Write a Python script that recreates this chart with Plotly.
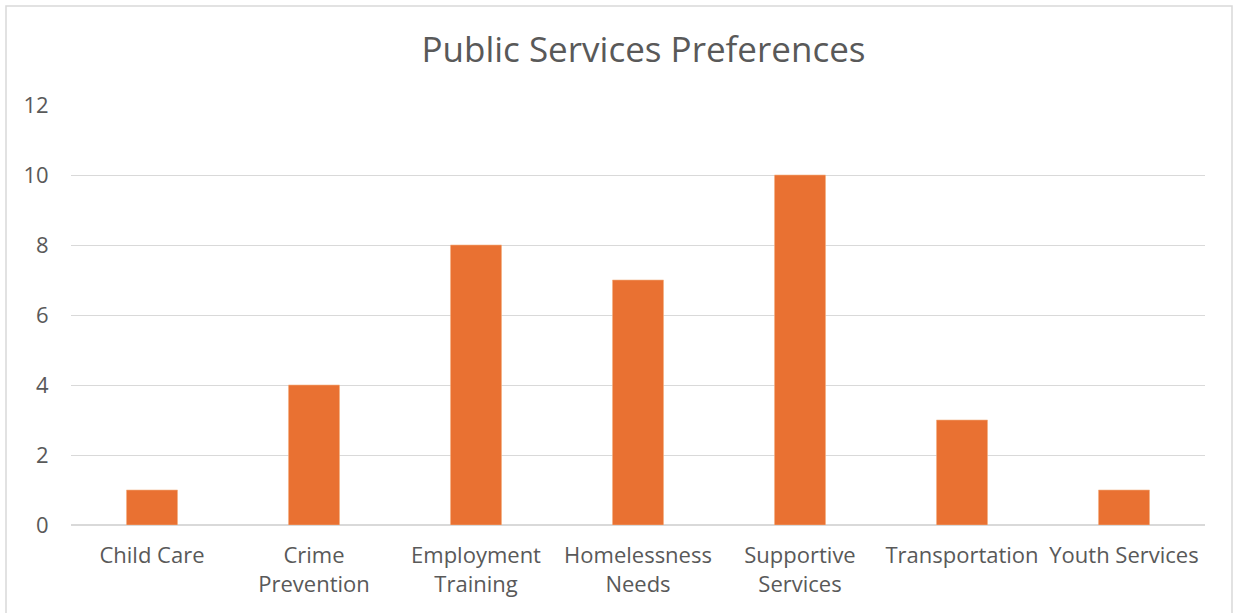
import plotly.graph_objects as go

categories = ["Child Care", "Crime<br>Prevention", "Employment<br>Training", "Homelessness<br>Needs",
              "Supportive<br>Services", "Transportation", "Youth Services"]
values = [1, 4, 8, 7, 10, 3, 1]
y_ticks = [0, 2, 4, 6, 8, 10, 12]

W, H = 1233, 613
L, R, T, B = 71, 28, 105, 88
pw = W - L - R
ph = H - T - B

fig = go.Figure(go.Bar(
    x=categories, y=values,
    marker=dict(color="#E97132", line=dict(color="#F4B183", width=0.6)),
))

font = "Open Sans, Lato, sans-serif"
fig.update_layout(
    width=W, height=H,
    margin=dict(l=L, r=R, t=T, b=B),
    paper_bgcolor="white", plot_bgcolor="white",
    bargap=0.685,
    showlegend=False,
    title=dict(text="Public Services Preferences", xref="container", x=643.5 / W, xanchor="center",
               y=1 - 50 / H, yanchor="middle",
               font=dict(family=font, size=35, color="#595959")),
    font=dict(family=font, color="#595959"),
)
fig.update_xaxes(
    tickfont=dict(size=22, color="#595959"),
    showgrid=False, showline=False, zeroline=False,
    ticks="outside", ticklen=11, tickcolor="rgba(0,0,0,0)",
)
fig.update_yaxes(
    range=[0, 12], tickvals=y_ticks,
    tickfont=dict(size=22, color="#595959"),
    showgrid=True, gridcolor="#D9D9D9", gridwidth=1.3,
    zeroline=True, zerolinecolor="#D9D9D9", zerolinewidth=1.5,
    showline=False,
    ticks="outside", ticklen=17, tickcolor="rgba(0,0,0,0)",
)
# chart area border
fig.add_shape(type="rect", xref="paper", yref="paper",
              x0=(6 - L) / pw, x1=(1232 - L) / pw,
              y0=(H - B - 640) / ph, y1=(H - B - 6) / ph,
              line=dict(color="#D9D9D9", width=1.5), fillcolor="rgba(0,0,0,0)", layer="below")

fig.write_html("out.html", config={"displayModeBar": False},
               post_script="document.body.style.margin='0';document.body.style.overflow='hidden';")
